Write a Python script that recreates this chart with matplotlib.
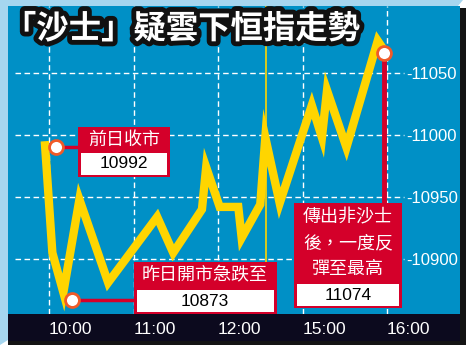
import matplotlib
matplotlib.use('Agg')
import matplotlib.pyplot as plt
import matplotlib.patheffects as pe
from matplotlib.patches import Rectangle, Polygon
from matplotlib.transforms import Affine2D

# ---------------- data ----------------
title = "「沙士」疑雲下恒指走勢"
x_ticks = [0, 1, 2, 3, 4]
x_labels = ["10:00", "11:00", "12:00", "15:00", "16:00"]
y_ticks = [10900, 10950, 11000, 11050]
y_labels = ["-10900", "-10950", "-11000", "-11050"]
line_x = [-0.05, 0.04, 0.17, 0.36, 0.70, 1.28, 1.47, 1.81, 1.86, 2.02, 2.24,
          2.28, 2.50, 2.56, 2.73, 3.11, 3.23, 3.29, 3.52, 3.89, 3.96]
line_y = [10995, 10905, 10873, 10948, 10881, 10934, 10905, 10940, 10974, 10942, 10942,
          10917, 10944, 10998, 10945, 11024, 10998, 11036, 10990, 11076, 11069]
break_x = 2.57
ann_x = [0.08, 0.27, 3.96]
ann_y = [10990, 10867, 11066]
ann_head = [["前日收市"], ["昨日開市急跌至"], ["傳出非沙士", "後，一度反", "彈至最高"]]
ann_value = ["10992", "10873", "11074"]

# ---------------- style ----------------
BLUE = '#0090c6'
RED = '#d4002a'
YEL = '#ffd500'
BAND = '#0c0a1e'
EDGE = '#a6d6ef'
MK_EDGE = '#f05a28'
CJK = ['Noto Sans CJK TC', 'DejaVu Sans']
NUM = ['Liberation Sans', 'DejaVu Sans']

W, H = 469, 351
fig = plt.figure(figsize=(W / 100, H / 100), dpi=100)
fig.patch.set_facecolor('white')
PX = Affine2D().scale(1 / W, -1 / H).translate(0, 1) + fig.transFigure

# frame
fig.add_artist(Rectangle((8, 8), 458, 337, transform=PX, facecolor='#141414', edgecolor='none', zorder=0))
fig.add_artist(Polygon([(0, 0), (463, 0), (458, 6), (8, 6), (8, 340), (0, 345)], closed=True,
                       transform=PX, facecolor=EDGE, edgecolor='none', zorder=0.5))
fig.add_artist(Rectangle((8, 314), 452, 27, transform=PX, facecolor=BAND, edgecolor='none', zorder=0.6))

# axes: blue area x 8..460, y 6..314 (pixels)
L, T, R, B = 8, 6, 460, 314
ax = fig.add_axes([L / W, (H - B) / H, (R - L) / W, (B - T) / H])
ax.set_zorder(2)
ax.set_facecolor(BLUE)
for s in ax.spines.values():
    s.set_visible(False)

# pixel->data mapping for layout
def px2u(px):
    return (px - 49) / 84.5

def py2v(py):
    return 11000 + (135 - py) / 1.24

ax.set_xlim(px2u(L), px2u(R))
ax.set_ylim(py2v(B), py2v(T))

# ticks
ax.set_xticks(x_ticks, labels=x_labels)
ax.tick_params(axis='x', length=0, pad=5.5, labelcolor='white', labelsize=12.5)
for lb in ax.get_xticklabels():
    lb.set_ha('left')
    lb.set_family(NUM)
ax.yaxis.tick_right()
ax.set_yticks(y_ticks, labels=y_labels)
ax.tick_params(axis='y', length=0, pad=-39, labelcolor='white', labelsize=12)
for lb in ax.get_yticklabels():
    lb.set_family(NUM)

# grid
gkw = dict(color='white', lw=1.0, dashes=(4, 2.5), zorder=1)
for xt in x_ticks:
    ax.axvline(xt, **gkw)
for yt in y_ticks:
    ax.plot([px2u(15), px2u(404)], [yt, yt], **gkw)

# lunch-break line
ax.axvline(break_x, color=YEL, lw=1.2, zorder=2)

# index line
ax.plot(line_x, line_y, color=YEL, lw=6, solid_joinstyle='miter', solid_capstyle='butt', zorder=3)

# annotation boxes (pixel layout)
boxes = [
    dict(outer=(78, 127, 170, 177), inner=(81, 153, 167, 175), head=[140], val=164, cx=124),
    dict(outer=(134, 262, 277, 314), inner=(137, 290, 274, 312), head=[275], val=301, cx=205),
    dict(outer=(294, 203, 402, 308), inner=(297, 284, 399, 306), head=[217, 243, 269], val=295, cx=348),
]
for i, b in enumerate(boxes):
    x0, y0, x1, y1 = b['outer']
    fig.add_artist(Rectangle((x0, y0), x1 - x0, y1 - y0, transform=PX, facecolor=RED, edgecolor='none', zorder=5))
    x0, y0, x1, y1 = b['inner']
    fig.add_artist(Rectangle((x0, y0), x1 - x0, y1 - y0, transform=PX, facecolor='white', edgecolor='none', zorder=6))
    for line, yc in zip(ann_head[i], b['head']):
        fig.text(b['cx'], yc, line, transform=PX, ha='center', va='center', color='white',
                 fontsize=13, family=CJK, zorder=7)
    fig.text(b['cx'], b['val'], ann_value[i], transform=PX, ha='center', va='center', color='black',
             fontsize=12.5, family=NUM, zorder=7)

# connectors
ax.plot([ann_x[0], px2u(78)], [ann_y[0], ann_y[0]], color=RED, lw=2.5, zorder=4, solid_capstyle='butt')
ax.plot([ann_x[1], px2u(134)], [ann_y[1], ann_y[1]], color=RED, lw=2.5, zorder=4, solid_capstyle='butt')
ax.plot([ann_x[2], ann_x[2]], [ann_y[2], py2v(203)], color=RED, lw=3.5, zorder=4, solid_capstyle='butt')
ax.plot(ann_x, ann_y, 'o', ms=10, mfc='white', mec=MK_EDGE, mew=2, zorder=8, linestyle='none')

# title
fig.text(4, 29, title, transform=PX, ha='left', va='center', color='white', fontsize=23.3,
         fontweight='black', family=CJK, zorder=10,
         path_effects=[pe.withStroke(linewidth=7, foreground='#111111')])

fig.savefig('out.png', dpi=100)
